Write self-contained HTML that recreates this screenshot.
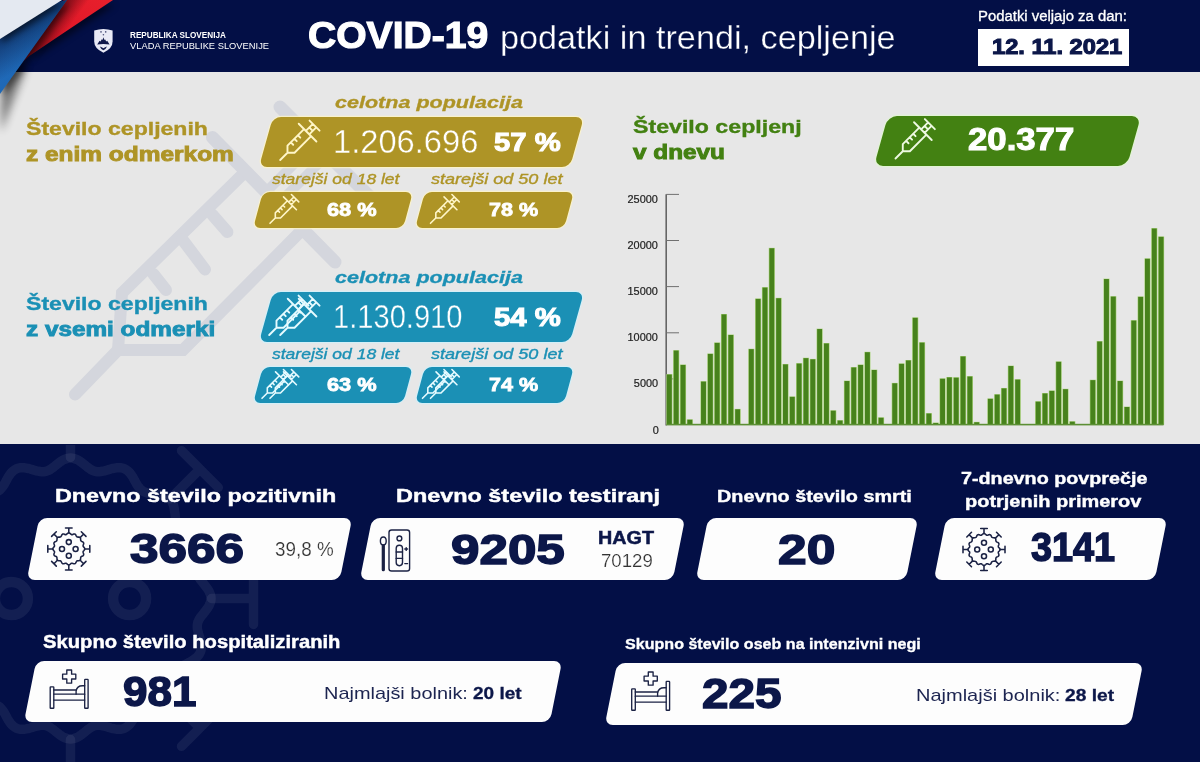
<!DOCTYPE html>
<html lang="sl"><head><meta charset="utf-8"><title>COVID-19 podatki in trendi, cepljenje</title>
<style>
html,body{margin:0;padding:0;background:#e7e7e7;}
body{width:1200px;height:762px;overflow:hidden;position:relative;font-family:"Liberation Sans",sans-serif;}
#page{position:absolute;left:0;top:0;width:1200px;height:762px;overflow:hidden;background:#e7e7e7;}
.abs{position:absolute;}
.t{position:absolute;white-space:nowrap;line-height:1;transform-origin:0 0;margin:0;padding:0;}
.pill{position:absolute;border-radius:9px;}
svg{position:absolute;left:0;top:0;overflow:visible;}
</style></head><body><div id="page">

<div class="abs" style="left:0;top:0;width:1200px;height:71.8px;background:#030f46"></div>
<div class="abs" style="left:0;top:443.8px;width:1200px;height:318.2px;background:#030f46"></div>
<svg width="1200" height="762" viewBox="0 0 1200 762">
<defs>
<linearGradient id="gb" x1="0" y1="0" x2="1" y2="1"><stop offset="0" stop-color="#2a72c4"/><stop offset="0.5" stop-color="#1e68b6"/><stop offset="1" stop-color="#1c6cbc"/></linearGradient>
<linearGradient id="gr" x1="0" y1="1" x2="1" y2="0"><stop offset="0" stop-color="#a8101c"/><stop offset="0.5" stop-color="#e01828"/><stop offset="1" stop-color="#e8202c"/></linearGradient>
<linearGradient id="grs" gradientUnits="userSpaceOnUse" x1="42" y1="33" x2="57" y2="44"><stop offset="0" stop-color="#5a0812" stop-opacity="0.75"/><stop offset="1" stop-color="#5a0812" stop-opacity="0"/></linearGradient>
<linearGradient id="gbs" gradientUnits="userSpaceOnUse" x1="31" y1="19.5" x2="50" y2="50"><stop offset="0" stop-color="#08204e" stop-opacity="0.7"/><stop offset="1" stop-color="#08204e" stop-opacity="0"/></linearGradient>
<filter id="sh" x="-30%" y="-30%" width="160%" height="160%"><feGaussianBlur stdDeviation="3"/></filter>
<filter id="sh2" x="-30%" y="-30%" width="160%" height="160%"><feGaussianBlur stdDeviation="4"/></filter>
</defs>
<polygon points="-6,60 20,62 -6,128" fill="#000" opacity="0.45" filter="url(#sh2)" transform="translate(7,4)"/>
<polygon points="62,0 113,0 29,56" fill="#000" opacity="0.5" filter="url(#sh)" transform="translate(2,5)"/>
<polygon points="64,0 113,0 29,56 18,66" fill="url(#gr)"/>
<polygon points="64,0 113,0 29,56 18,66" fill="url(#grs)"/>
<polygon points="0,30 67,0 0,93" fill="#000" opacity="0.5" filter="url(#sh)" transform="translate(4,3)"/>
<polygon points="0,20 67,0 0,94" fill="url(#gb)"/>
<polygon points="0,20 67,0 0,94" fill="url(#gbs)"/>
<polygon points="0,0 62,0 0,39" fill="#000" opacity="0.55" filter="url(#sh)" transform="translate(2,4)"/>
<polygon points="0,0 62,0 0,39" fill="#e4e9f1"/>
<g transform="translate(94,29)">
<path d="M0.2,1.4 Q9.4,-1.6 18.6,1.4 L18.6,12.6 Q18.6,19.6 9.4,23.8 Q0.2,19.6 0.2,12.6 Z" fill="#e9eaf6"/>
<path d="M3.2,15.4 L5.6,11.8 L6.5,12.6 L7.8,10.2 L8.5,11 L9.4,8.2 L10.3,11 L11,10.2 L12.3,12.6 L13.2,11.8 L15.6,15.4 Q9.4,14.4 3.2,15.4 Z" fill="#10184a"/>
<path d="M5.8,17.4 Q7.8,18 9.4,19.2 Q11,18 13,17.4 Q11.6,20.6 9.4,21.2 Q7.2,20.6 5.8,17.4 Z" fill="#10184a"/>
<circle cx="7" cy="2.9" r="0.8" fill="#4a5078"/><circle cx="11.7" cy="2.9" r="0.8" fill="#4a5078"/><circle cx="9.4" cy="5.8" r="0.8" fill="#4a5078"/>
</g>
<g fill="none" stroke="#d4d6dd" stroke-width="12" stroke-linecap="round" stroke-linejoin="miter">
<path d="M75,394.5 L118,350"/>
<path d="M244,173 L122,293 L118,350 L183,350 L302,230"/>
<path d="M212.5,137.5 L335,262" stroke-width="13"/>
<path d="M280,107 L372,199" stroke-width="13"/>
<path d="M266,192 L316,142 M278,204 L328,154" stroke-width="10"/>
<path d="M212.4,214.7 L227.4,232"/><path d="M182.5,239.6 L205,269.5"/><path d="M153.4,274 L166,290"/>
</g>
<clipPath id="navyclip"><rect x="0" y="445" width="1200" height="317"/></clipPath>
<g fill="none" stroke="#ffffff" stroke-opacity="0.066" stroke-width="9.5" stroke-linecap="round" clip-path="url(#navyclip)">
<path d="M211.0,598.5 L210.9,600.3 L210.5,602.2 L209.8,604.0 L209.0,605.8 L208.0,607.5 L206.8,609.2 L205.5,610.9 L204.2,612.6 L202.9,614.2 L201.6,615.8 L200.5,617.3 L199.4,618.9 L198.6,620.5 L197.9,622.1 L197.5,623.8 L197.3,625.4 L197.3,627.2 L197.4,629.0 L197.8,630.8 L198.2,632.7 L198.8,634.7 L199.4,636.7 L200.0,638.7 L200.5,640.7 L200.9,642.8 L201.2,644.8 L201.3,646.8 L201.2,648.7 L200.9,650.5 L200.3,652.3 L199.5,653.9 L198.4,655.5 L197.1,656.9 L195.7,658.2 L194.0,659.4 L192.3,660.6 L190.5,661.6 L188.6,662.6 L186.8,663.6 L185.0,664.6 L183.4,665.6 L181.8,666.7 L180.4,667.9 L179.2,669.1 L178.2,670.4 L177.3,671.9 L176.6,673.5 L176.1,675.2 L175.7,677.1 L175.4,679.0 L175.2,681.0 L175.0,683.1 L174.7,685.2 L174.4,687.3 L174.1,689.3 L173.6,691.3 L172.9,693.2 L172.1,694.9 L171.1,696.5 L169.8,697.8 L168.5,699.1 L166.9,700.1 L165.2,700.9 L163.3,701.6 L161.3,702.1 L159.3,702.4 L157.2,702.7 L155.1,703.0 L153.0,703.2 L151.0,703.4 L149.1,703.7 L147.2,704.1 L145.5,704.6 L143.9,705.3 L142.4,706.2 L141.1,707.2 L139.9,708.4 L138.7,709.8 L137.6,711.4 L136.6,713.0 L135.6,714.8 L134.6,716.6 L133.6,718.5 L132.6,720.3 L131.4,722.0 L130.2,723.7 L128.9,725.1 L127.5,726.4 L125.9,727.5 L124.3,728.3 L122.5,728.9 L120.7,729.2 L118.8,729.3 L116.8,729.2 L114.8,728.9 L112.7,728.5 L110.7,728.0 L108.7,727.4 L106.7,726.8 L104.7,726.2 L102.8,725.8 L101.0,725.4 L99.2,725.3 L97.4,725.3 L95.8,725.5 L94.1,725.9 L92.5,726.6 L90.9,727.4 L89.3,728.5 L87.8,729.6 L86.2,730.9 L84.6,732.2 L82.9,733.5 L81.2,734.8 L79.5,736.0 L77.8,737.0 L76.0,737.8 L74.2,738.5 L72.3,738.9 L70.5,739.0 L68.7,738.9 L66.8,738.5 L65.0,737.8 L63.2,737.0 L61.5,736.0 L59.8,734.8 L58.1,733.5 L56.4,732.2 L54.8,730.9 L53.2,729.6 L51.7,728.5 L50.1,727.4 L48.5,726.6 L46.9,725.9 L45.2,725.5 L43.6,725.3 L41.8,725.3 L40.0,725.4 L38.2,725.8 L36.3,726.2 L34.3,726.8 L32.3,727.4 L30.3,728.0 L28.3,728.5 L26.2,728.9 L24.2,729.2 L22.2,729.3 L20.3,729.2 L18.5,728.9 L16.7,728.3 L15.1,727.5 L13.5,726.4 L12.1,725.1 L10.8,723.7 L9.6,722.0 L8.4,720.3 L7.4,718.5 L6.4,716.6 L5.4,714.8 L4.4,713.0 L3.4,711.4 L2.3,709.8 L1.1,708.4 L-0.1,707.2 L-1.4,706.2 L-2.9,705.3 L-4.5,704.6 L-6.2,704.1 L-8.1,703.7 L-10.0,703.4 L-12.0,703.2 L-14.1,703.0 L-16.2,702.7 L-18.3,702.4 L-20.3,702.1 L-22.3,701.6 L-24.2,700.9 L-25.9,700.1 L-27.5,699.1 L-28.8,697.8 L-30.1,696.5 L-31.1,694.9 L-31.9,693.2 L-32.6,691.3 L-33.1,689.3 L-33.4,687.3 L-33.7,685.2 L-34.0,683.1 L-34.2,681.0 L-34.4,679.0 L-34.7,677.1 L-35.1,675.2 L-35.6,673.5 L-36.3,671.9 L-37.2,670.4 L-38.2,669.1 L-39.4,667.9 L-40.8,666.7 L-42.4,665.6 L-44.0,664.6 L-45.8,663.6 L-47.6,662.6 L-49.5,661.6 L-51.3,660.6 L-53.0,659.4 L-54.7,658.2 L-56.1,656.9 L-57.4,655.5 L-58.5,653.9 L-59.3,652.3 L-59.9,650.5 L-60.2,648.7 L-60.3,646.8 L-60.2,644.8 L-59.9,642.8 L-59.5,640.7 L-59.0,638.7 L-58.4,636.7 L-57.8,634.7 L-57.2,632.7 L-56.8,630.8 L-56.4,629.0 L-56.3,627.2 L-56.3,625.4 L-56.5,623.8 L-56.9,622.1 L-57.6,620.5 L-58.4,618.9 L-59.5,617.3 L-60.6,615.8 L-61.9,614.2 L-63.2,612.6 L-64.5,610.9 L-65.8,609.2 L-67.0,607.5 L-68.0,605.8 L-68.8,604.0 L-69.5,602.2 L-69.9,600.3 L-70.0,598.5 L-69.9,596.7 L-69.5,594.8 L-68.8,593.0 L-68.0,591.2 L-67.0,589.5 L-65.8,587.8 L-64.5,586.1 L-63.2,584.4 L-61.9,582.8 L-60.6,581.2 L-59.5,579.7 L-58.4,578.1 L-57.6,576.5 L-56.9,574.9 L-56.5,573.2 L-56.3,571.6 L-56.3,569.8 L-56.4,568.0 L-56.8,566.2 L-57.2,564.3 L-57.8,562.3 L-58.4,560.3 L-59.0,558.3 L-59.5,556.3 L-59.9,554.2 L-60.2,552.2 L-60.3,550.2 L-60.2,548.3 L-59.9,546.5 L-59.3,544.7 L-58.5,543.1 L-57.4,541.5 L-56.1,540.1 L-54.7,538.8 L-53.0,537.6 L-51.3,536.4 L-49.5,535.4 L-47.6,534.4 L-45.8,533.4 L-44.0,532.4 L-42.4,531.4 L-40.8,530.3 L-39.4,529.1 L-38.2,527.9 L-37.2,526.6 L-36.3,525.1 L-35.6,523.5 L-35.1,521.8 L-34.7,519.9 L-34.4,518.0 L-34.2,516.0 L-34.0,513.9 L-33.7,511.8 L-33.4,509.7 L-33.1,507.7 L-32.6,505.7 L-31.9,503.8 L-31.1,502.1 L-30.1,500.5 L-28.8,499.2 L-27.5,497.9 L-25.9,496.9 L-24.2,496.1 L-22.3,495.4 L-20.3,494.9 L-18.3,494.6 L-16.2,494.3 L-14.1,494.0 L-12.0,493.8 L-10.0,493.6 L-8.1,493.3 L-6.2,492.9 L-4.5,492.4 L-2.9,491.7 L-1.4,490.8 L-0.1,489.8 L1.1,488.6 L2.3,487.2 L3.4,485.6 L4.4,484.0 L5.4,482.2 L6.4,480.4 L7.4,478.5 L8.4,476.7 L9.6,475.0 L10.8,473.3 L12.1,471.9 L13.5,470.6 L15.1,469.5 L16.7,468.7 L18.5,468.1 L20.3,467.8 L22.2,467.7 L24.2,467.8 L26.2,468.1 L28.3,468.5 L30.3,469.0 L32.3,469.6 L34.3,470.2 L36.3,470.8 L38.2,471.2 L40.0,471.6 L41.8,471.7 L43.6,471.7 L45.2,471.5 L46.9,471.1 L48.5,470.4 L50.1,469.6 L51.7,468.5 L53.2,467.4 L54.8,466.1 L56.4,464.8 L58.1,463.5 L59.8,462.2 L61.5,461.0 L63.2,460.0 L65.0,459.2 L66.8,458.5 L68.7,458.1 L70.5,458.0 L72.3,458.1 L74.2,458.5 L76.0,459.2 L77.8,460.0 L79.5,461.0 L81.2,462.2 L82.9,463.5 L84.6,464.8 L86.2,466.1 L87.8,467.4 L89.3,468.5 L90.9,469.6 L92.5,470.4 L94.1,471.1 L95.8,471.5 L97.4,471.7 L99.2,471.7 L101.0,471.6 L102.8,471.2 L104.7,470.8 L106.7,470.2 L108.7,469.6 L110.7,469.0 L112.7,468.5 L114.8,468.1 L116.8,467.8 L118.8,467.7 L120.7,467.8 L122.5,468.1 L124.3,468.7 L125.9,469.5 L127.5,470.6 L128.9,471.9 L130.2,473.3 L131.4,475.0 L132.6,476.7 L133.6,478.5 L134.6,480.4 L135.6,482.2 L136.6,484.0 L137.6,485.6 L138.7,487.2 L139.9,488.6 L141.1,489.8 L142.4,490.8 L143.9,491.7 L145.5,492.4 L147.2,492.9 L149.1,493.3 L151.0,493.6 L153.0,493.8 L155.1,494.0 L157.2,494.3 L159.3,494.6 L161.3,494.9 L163.3,495.4 L165.2,496.1 L166.9,496.9 L168.5,497.9 L169.8,499.2 L171.1,500.5 L172.1,502.1 L172.9,503.8 L173.6,505.7 L174.1,507.7 L174.4,509.7 L174.7,511.8 L175.0,513.9 L175.2,516.0 L175.4,518.0 L175.7,519.9 L176.1,521.8 L176.6,523.5 L177.3,525.1 L178.2,526.6 L179.2,527.9 L180.4,529.1 L181.8,530.3 L183.4,531.4 L185.0,532.4 L186.8,533.4 L188.6,534.4 L190.5,535.4 L192.3,536.4 L194.0,537.6 L195.7,538.8 L197.1,540.1 L198.4,541.5 L199.5,543.1 L200.3,544.7 L200.9,546.5 L201.2,548.3 L201.3,550.2 L201.2,552.2 L200.9,554.2 L200.5,556.3 L200.0,558.3 L199.4,560.3 L198.8,562.3 L198.2,564.3 L197.8,566.2 L197.4,568.0 L197.3,569.8 L197.3,571.6 L197.5,573.2 L197.9,574.9 L198.6,576.5 L199.4,578.1 L200.5,579.7 L201.6,581.2 L202.9,582.8 L204.2,584.4 L205.5,586.1 L206.8,587.8 L208.0,589.5 L209.0,591.2 L209.8,593.0 L210.5,594.8 L210.9,596.7 L211.0,598.5Z"/>
<path d="M211.5,598.5 L253.5,598.5 M253.5,572.5 L253.5,624.5"/>
<path d="M170.2,698.2 L199.9,727.9 M218.3,709.5 L181.5,746.3"/>
<path d="M70.5,739.5 L70.5,781.5 M96.5,781.5 L44.5,781.5"/>
<path d="M-29.2,698.2 L-58.9,727.9 M-40.5,746.3 L-77.3,709.5"/>
<path d="M-70.5,598.5 L-112.5,598.5 M-112.5,624.5 L-112.5,572.5"/>
<path d="M-29.2,498.8 L-58.9,469.1 M-77.3,487.5 L-40.5,450.7"/>
<path d="M70.5,457.5 L70.5,415.5 M44.5,415.5 L96.5,415.5"/>
<path d="M170.2,498.8 L199.9,469.1 M181.5,450.7 L218.3,487.5"/>
<circle cx="11.4" cy="598.5" r="16.5" stroke-width="10.5"/><circle cx="129.6" cy="598.5" r="16.5" stroke-width="10.5"/>
</g>
</svg>
<div class="pill" style="left:265.9px;top:116.6px;width:310.6px;height:49.8px;background:#ae9426;transform:skewX(-15.64deg);border-radius:8px;box-shadow:0 0 0 1.2px rgba(255,246,196,.75);"></div>
<div class="pill" style="left:258.4px;top:192.3px;width:150.2px;height:36.2px;background:#ae9426;transform:skewX(-15.11deg);border-radius:7px;box-shadow:0 0 0 1.2px rgba(255,246,196,.75);"></div>
<div class="pill" style="left:419.8px;top:192.3px;width:148.9px;height:36.2px;background:#ae9426;transform:skewX(-15.11deg);border-radius:7px;box-shadow:0 0 0 1.2px rgba(255,246,196,.75);"></div>
<div class="pill" style="left:265.9px;top:291.6px;width:310.6px;height:49.8px;background:#1b90b5;transform:skewX(-15.64deg);border-radius:8px;box-shadow:0 0 0 1.2px rgba(205,242,252,.75);"></div>
<div class="pill" style="left:258.4px;top:367.3px;width:150.2px;height:36.2px;background:#1b90b5;transform:skewX(-15.11deg);border-radius:7px;box-shadow:0 0 0 1.2px rgba(205,242,252,.75);"></div>
<div class="pill" style="left:419.8px;top:367.3px;width:148.9px;height:36.2px;background:#1b90b5;transform:skewX(-15.11deg);border-radius:7px;box-shadow:0 0 0 1.2px rgba(205,242,252,.75);"></div>
<div class="pill" style="left:881.1px;top:115.8px;width:252.6px;height:49.8px;background:#438112;transform:skewX(-15.64deg);border-radius:9px;box-shadow:0 0 0 1.2px rgba(224,250,205,.7);"></div>
<div class="pill" style="left:33.3px;top:518.4px;width:313.2px;height:61.8px;background:#fdfdfd;transform:skewX(-11.31deg);border-radius:8px;"></div>
<div class="pill" style="left:366.0px;top:518.4px;width:312.5px;height:61.8px;background:#fdfdfd;transform:skewX(-11.31deg);border-radius:8px;"></div>
<div class="pill" style="left:702.3px;top:518.4px;width:209.7px;height:61.8px;background:#fdfdfd;transform:skewX(-11.31deg);border-radius:8px;"></div>
<div class="pill" style="left:939.5px;top:518.4px;width:220.5px;height:61.8px;background:#fdfdfd;transform:skewX(-11.31deg);border-radius:8px;"></div>
<div class="pill" style="left:29.5px;top:661.2px;width:526.2px;height:61.3px;background:#fdfdfd;transform:skewX(-11.31deg);border-radius:8px;"></div>
<div class="pill" style="left:611.3px;top:662.8px;width:525.7px;height:61.8px;background:#fdfdfd;transform:skewX(-11.31deg);border-radius:8px;"></div>
<div class="abs" style="left:978px;top:28.8px;width:150.8px;height:36.8px;background:#fff"></div>
<svg width="1200" height="762" viewBox="0 0 1200 762">
<g transform="translate(280.2,160.0) rotate(-45) scale(1.000)" fill="none" stroke="#fff6c8" stroke-width="1.90" stroke-linecap="round" stroke-linejoin="round">
<path d="M0,0 L10.3,0 M38.7,-5 L15.3,-5 L10.3,0 L15.3,5 L38.7,5 M38.7,-12.5 L38.7,12.5 M38.7,-2.4 L48.6,-2.4 M38.7,2.4 L48.6,2.4 M43.6,-2.4 L43.6,2.4 M48.6,-7.1 L48.6,7.1 M20,-5 L20,-1.6 M25,-5 L25,-1.6 M30,-5 L30,-1.6"/>
</g>
<g transform="translate(270.0,223.3) rotate(-45) scale(0.730)" fill="none" stroke="#fff6c8" stroke-width="2.19" stroke-linecap="round" stroke-linejoin="round">
<path d="M0,0 L10.3,0 M38.7,-5 L15.3,-5 L10.3,0 L15.3,5 L38.7,5 M38.7,-12.5 L38.7,12.5 M38.7,-2.4 L48.6,-2.4 M38.7,2.4 L48.6,2.4 M43.6,-2.4 L43.6,2.4 M48.6,-7.1 L48.6,7.1 M20,-5 L20,-1.6 M25,-5 L25,-1.6 M30,-5 L30,-1.6"/>
</g>
<g transform="translate(430.5,223.3) rotate(-45) scale(0.730)" fill="none" stroke="#fff6c8" stroke-width="2.19" stroke-linecap="round" stroke-linejoin="round">
<path d="M0,0 L10.3,0 M38.7,-5 L15.3,-5 L10.3,0 L15.3,5 L38.7,5 M38.7,-12.5 L38.7,12.5 M38.7,-2.4 L48.6,-2.4 M38.7,2.4 L48.6,2.4 M43.6,-2.4 L43.6,2.4 M48.6,-7.1 L48.6,7.1 M20,-5 L20,-1.6 M25,-5 L25,-1.6 M30,-5 L30,-1.6"/>
</g>
<g transform="translate(269.2,335.0) rotate(-45) scale(1.000)" fill="none" stroke="#e6fbff" stroke-width="1.90" stroke-linecap="round" stroke-linejoin="round">
<path d="M0,0 L10.3,0 M38.7,-5 L15.3,-5 L10.3,0 L15.3,5 L38.7,5 M38.7,-12.5 L38.7,12.5 M38.7,-2.4 L48.6,-2.4 M38.7,2.4 L48.6,2.4 M43.6,-2.4 L43.6,2.4 M48.6,-7.1 L48.6,7.1 M20,-5 L20,-1.6 M25,-5 L25,-1.6 M30,-5 L30,-1.6"/>
</g>
<g transform="translate(280.2,335.0) rotate(-45) scale(1.000)" fill="none" stroke="#e6fbff" stroke-width="1.90" stroke-linecap="round" stroke-linejoin="round">
<path d="M0,0 L10.3,0 M38.7,-5 L15.3,-5 L10.3,0 L15.3,5 L38.7,5 M38.7,-12.5 L38.7,12.5 M38.7,-2.4 L48.6,-2.4 M38.7,2.4 L48.6,2.4 M43.6,-2.4 L43.6,2.4 M48.6,-7.1 L48.6,7.1 M20,-5 L20,-1.6 M25,-5 L25,-1.6 M30,-5 L30,-1.6"/>
</g>
<g transform="translate(262.0,398.3) rotate(-45) scale(0.730)" fill="none" stroke="#e6fbff" stroke-width="2.19" stroke-linecap="round" stroke-linejoin="round">
<path d="M0,0 L10.3,0 M38.7,-5 L15.3,-5 L10.3,0 L15.3,5 L38.7,5 M38.7,-12.5 L38.7,12.5 M38.7,-2.4 L48.6,-2.4 M38.7,2.4 L48.6,2.4 M43.6,-2.4 L43.6,2.4 M48.6,-7.1 L48.6,7.1 M20,-5 L20,-1.6 M25,-5 L25,-1.6 M30,-5 L30,-1.6"/>
</g>
<g transform="translate(270.0,398.3) rotate(-45) scale(0.730)" fill="none" stroke="#e6fbff" stroke-width="2.19" stroke-linecap="round" stroke-linejoin="round">
<path d="M0,0 L10.3,0 M38.7,-5 L15.3,-5 L10.3,0 L15.3,5 L38.7,5 M38.7,-12.5 L38.7,12.5 M38.7,-2.4 L48.6,-2.4 M38.7,2.4 L48.6,2.4 M43.6,-2.4 L43.6,2.4 M48.6,-7.1 L48.6,7.1 M20,-5 L20,-1.6 M25,-5 L25,-1.6 M30,-5 L30,-1.6"/>
</g>
<g transform="translate(422.5,398.3) rotate(-45) scale(0.730)" fill="none" stroke="#e6fbff" stroke-width="2.19" stroke-linecap="round" stroke-linejoin="round">
<path d="M0,0 L10.3,0 M38.7,-5 L15.3,-5 L10.3,0 L15.3,5 L38.7,5 M38.7,-12.5 L38.7,12.5 M38.7,-2.4 L48.6,-2.4 M38.7,2.4 L48.6,2.4 M43.6,-2.4 L43.6,2.4 M48.6,-7.1 L48.6,7.1 M20,-5 L20,-1.6 M25,-5 L25,-1.6 M30,-5 L30,-1.6"/>
</g>
<g transform="translate(430.5,398.3) rotate(-45) scale(0.730)" fill="none" stroke="#e6fbff" stroke-width="2.19" stroke-linecap="round" stroke-linejoin="round">
<path d="M0,0 L10.3,0 M38.7,-5 L15.3,-5 L10.3,0 L15.3,5 L38.7,5 M38.7,-12.5 L38.7,12.5 M38.7,-2.4 L48.6,-2.4 M38.7,2.4 L48.6,2.4 M43.6,-2.4 L43.6,2.4 M48.6,-7.1 L48.6,7.1 M20,-5 L20,-1.6 M25,-5 L25,-1.6 M30,-5 L30,-1.6"/>
</g>
<g transform="translate(895.5,158.5) rotate(-45) scale(1.000)" fill="none" stroke="#eef9e2" stroke-width="1.90" stroke-linecap="round" stroke-linejoin="round">
<path d="M0,0 L10.3,0 M38.7,-5 L15.3,-5 L10.3,0 L15.3,5 L38.7,5 M38.7,-12.5 L38.7,12.5 M38.7,-2.4 L48.6,-2.4 M38.7,2.4 L48.6,2.4 M43.6,-2.4 L43.6,2.4 M48.6,-7.1 L48.6,7.1 M20,-5 L20,-1.6 M25,-5 L25,-1.6 M30,-5 L30,-1.6"/>
</g>
<g fill="none" stroke="#1b2244" stroke-width="1.55" stroke-linecap="round">
<path d="M84.8,548.9 L84.7,549.5 L84.3,550.1 L83.8,550.7 L83.3,551.2 L83.1,551.7 L83.1,552.3 L83.3,553.0 L83.6,553.7 L83.7,554.4 L83.6,555.0 L83.2,555.6 L82.6,556.0 L81.9,556.3 L81.3,556.6 L80.9,557.0 L80.7,557.5 L80.6,558.2 L80.6,559.0 L80.5,559.7 L80.1,560.2 L79.6,560.6 L78.9,560.7 L78.1,560.7 L77.4,560.8 L76.9,561.0 L76.5,561.4 L76.2,562.0 L75.9,562.7 L75.5,563.3 L74.9,563.7 L74.3,563.8 L73.6,563.7 L72.9,563.4 L72.2,563.2 L71.6,563.2 L71.1,563.4 L70.6,563.9 L70.0,564.4 L69.4,564.8 L68.8,564.9 L68.2,564.8 L67.6,564.4 L67.0,563.9 L66.5,563.4 L66.0,563.2 L65.4,563.2 L64.7,563.4 L64.0,563.7 L63.3,563.8 L62.7,563.7 L62.1,563.3 L61.7,562.7 L61.4,562.0 L61.1,561.4 L60.7,561.0 L60.2,560.8 L59.5,560.7 L58.7,560.7 L58.0,560.6 L57.5,560.2 L57.1,559.7 L57.0,559.0 L57.0,558.2 L56.9,557.5 L56.7,557.0 L56.3,556.6 L55.7,556.3 L55.0,556.0 L54.4,555.6 L54.0,555.0 L53.9,554.4 L54.0,553.7 L54.3,553.0 L54.5,552.3 L54.5,551.7 L54.3,551.2 L53.8,550.7 L53.3,550.1 L52.9,549.5 L52.8,548.9 L52.9,548.3 L53.3,547.7 L53.8,547.1 L54.3,546.6 L54.5,546.1 L54.5,545.5 L54.3,544.8 L54.0,544.1 L53.9,543.4 L54.0,542.8 L54.4,542.2 L55.0,541.8 L55.7,541.5 L56.3,541.2 L56.7,540.8 L56.9,540.3 L57.0,539.6 L57.0,538.8 L57.1,538.1 L57.5,537.6 L58.0,537.2 L58.7,537.1 L59.5,537.1 L60.2,537.0 L60.7,536.8 L61.1,536.4 L61.4,535.8 L61.7,535.1 L62.1,534.5 L62.7,534.1 L63.3,534.0 L64.0,534.1 L64.7,534.4 L65.4,534.6 L66.0,534.6 L66.5,534.4 L67.0,533.9 L67.6,533.4 L68.2,533.0 L68.8,532.9 L69.4,533.0 L70.0,533.4 L70.6,533.9 L71.1,534.4 L71.6,534.6 L72.2,534.6 L72.9,534.4 L73.6,534.1 L74.3,534.0 L74.9,534.1 L75.5,534.5 L75.9,535.1 L76.2,535.8 L76.5,536.4 L76.9,536.8 L77.4,537.0 L78.1,537.1 L78.9,537.1 L79.6,537.2 L80.1,537.6 L80.5,538.1 L80.6,538.8 L80.6,539.6 L80.7,540.3 L80.9,540.8 L81.3,541.2 L81.9,541.5 L82.6,541.8 L83.2,542.2 L83.6,542.8 L83.7,543.4 L83.6,544.1 L83.3,544.8 L83.1,545.5 L83.1,546.1 L83.3,546.6 L83.8,547.1 L84.3,547.7 L84.7,548.3 L84.8,548.9Z"/>
<path d="M68.8,532.8 L68.8,527.9 M65.5,527.9 L72.1,527.9"/>
<path d="M80.2,537.5 L83.6,534.1 M81.3,531.7 L86.0,536.4"/>
<path d="M84.9,548.9 L89.8,548.9 M89.8,545.6 L89.8,552.2"/>
<path d="M80.2,560.3 L83.6,563.7 M86.0,561.4 L81.3,566.1"/>
<path d="M68.8,565.0 L68.8,569.9 M72.1,569.9 L65.5,569.9"/>
<path d="M57.4,560.3 L54.0,563.7 M56.3,566.1 L51.6,561.4"/>
<path d="M52.7,548.9 L47.8,548.9 M47.8,552.2 L47.8,545.6"/>
<path d="M57.4,537.5 L54.0,534.1 M51.6,536.4 L56.3,531.7"/>
<circle cx="68.8" cy="542.1" r="2.5"/>
<circle cx="62.0" cy="548.9" r="2.5"/>
<circle cx="75.6" cy="548.9" r="2.5"/>
<circle cx="68.8" cy="555.7" r="2.5"/>
</g>
<g fill="none" stroke="#1b2244" stroke-width="1.55" stroke-linecap="round">
<path d="M1000.0,549.5 L999.9,550.1 L999.5,550.7 L999.0,551.3 L998.5,551.8 L998.3,552.3 L998.3,552.9 L998.5,553.6 L998.8,554.3 L998.9,555.0 L998.8,555.6 L998.4,556.2 L997.8,556.6 L997.1,556.9 L996.5,557.2 L996.1,557.6 L995.9,558.1 L995.8,558.8 L995.8,559.6 L995.7,560.3 L995.3,560.8 L994.8,561.2 L994.1,561.3 L993.3,561.3 L992.6,561.4 L992.1,561.6 L991.7,562.0 L991.4,562.6 L991.1,563.3 L990.7,563.9 L990.1,564.3 L989.5,564.4 L988.8,564.3 L988.1,564.0 L987.4,563.8 L986.8,563.8 L986.3,564.0 L985.8,564.5 L985.2,565.0 L984.6,565.4 L984.0,565.5 L983.4,565.4 L982.8,565.0 L982.2,564.5 L981.7,564.0 L981.2,563.8 L980.6,563.8 L979.9,564.0 L979.2,564.3 L978.5,564.4 L977.9,564.3 L977.3,563.9 L976.9,563.3 L976.6,562.6 L976.3,562.0 L975.9,561.6 L975.4,561.4 L974.7,561.3 L973.9,561.3 L973.2,561.2 L972.7,560.8 L972.3,560.3 L972.2,559.6 L972.2,558.8 L972.1,558.1 L971.9,557.6 L971.5,557.2 L970.9,556.9 L970.2,556.6 L969.6,556.2 L969.2,555.6 L969.1,555.0 L969.2,554.3 L969.5,553.6 L969.7,552.9 L969.7,552.3 L969.5,551.8 L969.0,551.3 L968.5,550.7 L968.1,550.1 L968.0,549.5 L968.1,548.9 L968.5,548.3 L969.0,547.7 L969.5,547.2 L969.7,546.7 L969.7,546.1 L969.5,545.4 L969.2,544.7 L969.1,544.0 L969.2,543.4 L969.6,542.8 L970.2,542.4 L970.9,542.1 L971.5,541.8 L971.9,541.4 L972.1,540.9 L972.2,540.2 L972.2,539.4 L972.3,538.7 L972.7,538.2 L973.2,537.8 L973.9,537.7 L974.7,537.7 L975.4,537.6 L975.9,537.4 L976.3,537.0 L976.6,536.4 L976.9,535.7 L977.3,535.1 L977.9,534.7 L978.5,534.6 L979.2,534.7 L979.9,535.0 L980.6,535.2 L981.2,535.2 L981.7,535.0 L982.2,534.5 L982.8,534.0 L983.4,533.6 L984.0,533.5 L984.6,533.6 L985.2,534.0 L985.8,534.5 L986.3,535.0 L986.8,535.2 L987.4,535.2 L988.1,535.0 L988.8,534.7 L989.5,534.6 L990.1,534.7 L990.7,535.1 L991.1,535.7 L991.4,536.4 L991.7,537.0 L992.1,537.4 L992.6,537.6 L993.3,537.7 L994.1,537.7 L994.8,537.8 L995.3,538.2 L995.7,538.7 L995.8,539.4 L995.8,540.2 L995.9,540.9 L996.1,541.4 L996.5,541.8 L997.1,542.1 L997.8,542.4 L998.4,542.8 L998.8,543.4 L998.9,544.0 L998.8,544.7 L998.5,545.4 L998.3,546.1 L998.3,546.7 L998.5,547.2 L999.0,547.7 L999.5,548.3 L999.9,548.9 L1000.0,549.5Z"/>
<path d="M984.0,533.4 L984.0,528.5 M980.7,528.5 L987.3,528.5"/>
<path d="M995.4,538.1 L998.8,534.7 M996.5,532.3 L1001.2,537.0"/>
<path d="M1000.1,549.5 L1005.0,549.5 M1005.0,546.2 L1005.0,552.8"/>
<path d="M995.4,560.9 L998.8,564.3 M1001.2,562.0 L996.5,566.7"/>
<path d="M984.0,565.6 L984.0,570.5 M987.3,570.5 L980.7,570.5"/>
<path d="M972.6,560.9 L969.2,564.3 M971.5,566.7 L966.8,562.0"/>
<path d="M967.9,549.5 L963.0,549.5 M963.0,552.8 L963.0,546.2"/>
<path d="M972.6,538.1 L969.2,534.7 M966.8,537.0 L971.5,532.3"/>
<circle cx="984.0" cy="542.7" r="2.5"/>
<circle cx="977.2" cy="549.5" r="2.5"/>
<circle cx="990.8" cy="549.5" r="2.5"/>
<circle cx="984.0" cy="556.3" r="2.5"/>
</g>
<g fill="none" stroke="#1b2244" stroke-width="1.4" stroke-linecap="round" stroke-linejoin="round">
<ellipse cx="383.3" cy="541" rx="2.9" ry="4"/><rect x="382.4" y="545" width="1.8" height="25.6" rx="0.8" fill="#1b2244"/>
<rect x="389" y="530" width="20.6" height="41" rx="2.6"/>
<circle cx="399.4" cy="538.4" r="2.4"/>
<rect x="396.2" y="545.2" width="6.3" height="20.5" rx="3.1"/>
<path d="M396.2,552 L402.5,552 M396.2,558.4 L402.5,558.4 M404.8,549 L407.6,549 M406.2,547.6 L406.2,550.4 M404.8,563.6 L407.6,563.6"/>
</g>
<g transform="translate(49.5,669.6)" fill="none" stroke="#1b2244" stroke-width="1.35" stroke-linejoin="round" stroke-linecap="round">
<rect x="0.7" y="17.3" width="3.6" height="21.4" rx="0.5"/>
<rect x="35.2" y="9.8" width="3.4" height="28.9" rx="0.5"/>
<path d="M4.3,20.4 L26.6,20.4 M4.3,24.6 L35.2,24.6 M4.3,30.5 L35.2,30.5"/>
<path d="M26.6,24.6 L26.6,21.6 Q27.4,16.2 33,16.2 L35.2,16.2"/>
<path d="M17.3,0.4 h4.8 v4.2 h4.2 v4.8 h-4.2 v4.2 h-4.8 v-4.2 h-4.2 v-4.8 h4.2 z"/>
</g>
<g transform="translate(631.0,671.6)" fill="none" stroke="#1b2244" stroke-width="1.35" stroke-linejoin="round" stroke-linecap="round">
<rect x="0.7" y="17.3" width="3.6" height="21.4" rx="0.5"/>
<rect x="35.2" y="9.8" width="3.4" height="28.9" rx="0.5"/>
<path d="M4.3,20.4 L26.6,20.4 M4.3,24.6 L35.2,24.6 M4.3,30.5 L35.2,30.5"/>
<path d="M26.6,24.6 L26.6,21.6 Q27.4,16.2 33,16.2 L35.2,16.2"/>
<path d="M17.3,0.4 h4.8 v4.2 h4.2 v4.8 h-4.2 v4.2 h-4.8 v-4.2 h-4.2 v-4.8 h4.2 z"/>
</g>
<g stroke="#707070" stroke-width="1" fill="none">
<path d="M666.2,194.2 L666.2,425.5" stroke-width="1.6" stroke="#666"/>
<path d="M666.2,378.9 L679,378.9"/>
<path d="M666.2,332.8 L679,332.8"/>
<path d="M666.2,286.6 L679,286.6"/>
<path d="M666.2,240.5 L679,240.5"/>
<path d="M666.2,194.4 L679,194.4"/>
</g>
<g>
<rect x="666.30" y="374.13" width="6.10" height="50.67" fill="#a9d27a"/>
<rect x="673.13" y="350.15" width="6.10" height="74.65" fill="#a9d27a"/>
<rect x="679.96" y="364.54" width="6.10" height="60.26" fill="#a9d27a"/>
<rect x="686.79" y="419.33" width="6.10" height="5.47" fill="#a9d27a"/>
<rect x="700.45" y="381.19" width="6.10" height="43.61" fill="#a9d27a"/>
<rect x="707.28" y="353.51" width="6.10" height="71.29" fill="#a9d27a"/>
<rect x="714.11" y="342.49" width="6.10" height="82.31" fill="#a9d27a"/>
<rect x="720.94" y="313.99" width="6.10" height="110.81" fill="#a9d27a"/>
<rect x="727.77" y="334.56" width="6.10" height="90.24" fill="#a9d27a"/>
<rect x="734.60" y="408.90" width="6.10" height="15.90" fill="#a9d27a"/>
<rect x="748.26" y="348.76" width="6.10" height="76.04" fill="#a9d27a"/>
<rect x="755.09" y="298.49" width="6.10" height="126.31" fill="#a9d27a"/>
<rect x="761.92" y="287.15" width="6.10" height="137.65" fill="#a9d27a"/>
<rect x="768.75" y="247.85" width="6.10" height="176.95" fill="#a9d27a"/>
<rect x="775.58" y="297.85" width="6.10" height="126.95" fill="#a9d27a"/>
<rect x="782.41" y="363.98" width="6.10" height="60.82" fill="#a9d27a"/>
<rect x="789.24" y="396.45" width="6.10" height="28.35" fill="#a9d27a"/>
<rect x="796.07" y="363.15" width="6.10" height="61.65" fill="#a9d27a"/>
<rect x="802.90" y="357.76" width="6.10" height="67.04" fill="#a9d27a"/>
<rect x="809.73" y="358.91" width="6.10" height="65.89" fill="#a9d27a"/>
<rect x="816.56" y="328.65" width="6.10" height="96.15" fill="#a9d27a"/>
<rect x="823.39" y="343.04" width="6.10" height="81.76" fill="#a9d27a"/>
<rect x="830.22" y="410.29" width="6.10" height="14.51" fill="#a9d27a"/>
<rect x="837.05" y="420.16" width="6.10" height="4.64" fill="#a9d27a"/>
<rect x="843.88" y="380.63" width="6.10" height="44.17" fill="#a9d27a"/>
<rect x="850.71" y="367.07" width="6.10" height="57.73" fill="#a9d27a"/>
<rect x="857.54" y="364.54" width="6.10" height="60.26" fill="#a9d27a"/>
<rect x="864.37" y="351.81" width="6.10" height="72.99" fill="#a9d27a"/>
<rect x="871.20" y="369.61" width="6.10" height="55.19" fill="#a9d27a"/>
<rect x="878.03" y="417.34" width="6.10" height="7.46" fill="#a9d27a"/>
<rect x="891.69" y="382.89" width="6.10" height="41.91" fill="#a9d27a"/>
<rect x="898.52" y="363.43" width="6.10" height="61.37" fill="#a9d27a"/>
<rect x="905.35" y="360.02" width="6.10" height="64.78" fill="#a9d27a"/>
<rect x="912.18" y="317.40" width="6.10" height="107.40" fill="#a9d27a"/>
<rect x="919.01" y="342.21" width="6.10" height="82.59" fill="#a9d27a"/>
<rect x="925.84" y="413.10" width="6.10" height="11.70" fill="#a9d27a"/>
<rect x="932.67" y="422.56" width="6.10" height="2.24" fill="#a9d27a"/>
<rect x="939.50" y="378.37" width="6.10" height="46.43" fill="#a9d27a"/>
<rect x="946.33" y="376.99" width="6.10" height="47.81" fill="#a9d27a"/>
<rect x="953.16" y="377.27" width="6.10" height="47.53" fill="#a9d27a"/>
<rect x="959.99" y="356.05" width="6.10" height="68.75" fill="#a9d27a"/>
<rect x="966.82" y="376.11" width="6.10" height="48.69" fill="#a9d27a"/>
<rect x="973.65" y="421.86" width="6.10" height="2.94" fill="#a9d27a"/>
<rect x="987.31" y="398.43" width="6.10" height="26.37" fill="#a9d27a"/>
<rect x="994.14" y="394.19" width="6.10" height="30.61" fill="#a9d27a"/>
<rect x="1000.97" y="387.97" width="6.10" height="36.83" fill="#a9d27a"/>
<rect x="1007.80" y="365.64" width="6.10" height="59.16" fill="#a9d27a"/>
<rect x="1014.63" y="379.20" width="6.10" height="45.60" fill="#a9d27a"/>
<rect x="1035.12" y="401.25" width="6.10" height="23.55" fill="#a9d27a"/>
<rect x="1041.95" y="393.04" width="6.10" height="31.76" fill="#a9d27a"/>
<rect x="1048.78" y="390.50" width="6.10" height="34.30" fill="#a9d27a"/>
<rect x="1055.61" y="361.40" width="6.10" height="63.40" fill="#a9d27a"/>
<rect x="1062.44" y="388.80" width="6.10" height="36.00" fill="#a9d27a"/>
<rect x="1069.27" y="421.26" width="6.10" height="3.54" fill="#a9d27a"/>
<rect x="1089.76" y="379.76" width="6.10" height="45.04" fill="#a9d27a"/>
<rect x="1096.59" y="341.11" width="6.10" height="83.69" fill="#a9d27a"/>
<rect x="1103.42" y="278.66" width="6.10" height="146.14" fill="#a9d27a"/>
<rect x="1110.25" y="296.19" width="6.10" height="128.61" fill="#a9d27a"/>
<rect x="1117.08" y="380.63" width="6.10" height="44.17" fill="#a9d27a"/>
<rect x="1123.91" y="406.60" width="6.10" height="18.20" fill="#a9d27a"/>
<rect x="1130.74" y="320.17" width="6.10" height="104.63" fill="#a9d27a"/>
<rect x="1137.57" y="296.46" width="6.10" height="128.34" fill="#a9d27a"/>
<rect x="1144.40" y="258.37" width="6.10" height="166.43" fill="#a9d27a"/>
<rect x="1151.23" y="228.11" width="6.10" height="196.69" fill="#a9d27a"/>
<rect x="1158.06" y="236.44" width="6.10" height="188.36" fill="#a9d27a"/>
<rect x="666.90" y="374.53" width="4.90" height="50.27" fill="#47821c"/>
<rect x="673.73" y="350.55" width="4.90" height="74.25" fill="#47821c"/>
<rect x="680.56" y="364.94" width="4.90" height="59.86" fill="#47821c"/>
<rect x="687.39" y="419.73" width="4.90" height="5.07" fill="#47821c"/>
<rect x="701.05" y="381.59" width="4.90" height="43.21" fill="#47821c"/>
<rect x="707.88" y="353.91" width="4.90" height="70.89" fill="#47821c"/>
<rect x="714.71" y="342.89" width="4.90" height="81.91" fill="#47821c"/>
<rect x="721.54" y="314.39" width="4.90" height="110.41" fill="#47821c"/>
<rect x="728.37" y="334.96" width="4.90" height="89.84" fill="#47821c"/>
<rect x="735.20" y="409.30" width="4.90" height="15.50" fill="#47821c"/>
<rect x="748.86" y="349.16" width="4.90" height="75.64" fill="#47821c"/>
<rect x="755.69" y="298.89" width="4.90" height="125.91" fill="#47821c"/>
<rect x="762.52" y="287.55" width="4.90" height="137.25" fill="#47821c"/>
<rect x="769.35" y="248.25" width="4.90" height="176.55" fill="#47821c"/>
<rect x="776.18" y="298.25" width="4.90" height="126.55" fill="#47821c"/>
<rect x="783.01" y="364.38" width="4.90" height="60.42" fill="#47821c"/>
<rect x="789.84" y="396.85" width="4.90" height="27.95" fill="#47821c"/>
<rect x="796.67" y="363.55" width="4.90" height="61.25" fill="#47821c"/>
<rect x="803.50" y="358.16" width="4.90" height="66.64" fill="#47821c"/>
<rect x="810.33" y="359.31" width="4.90" height="65.49" fill="#47821c"/>
<rect x="817.16" y="329.05" width="4.90" height="95.75" fill="#47821c"/>
<rect x="823.99" y="343.44" width="4.90" height="81.36" fill="#47821c"/>
<rect x="830.82" y="410.69" width="4.90" height="14.11" fill="#47821c"/>
<rect x="837.65" y="420.56" width="4.90" height="4.24" fill="#47821c"/>
<rect x="844.48" y="381.03" width="4.90" height="43.77" fill="#47821c"/>
<rect x="851.31" y="367.47" width="4.90" height="57.33" fill="#47821c"/>
<rect x="858.14" y="364.94" width="4.90" height="59.86" fill="#47821c"/>
<rect x="864.97" y="352.21" width="4.90" height="72.59" fill="#47821c"/>
<rect x="871.80" y="370.01" width="4.90" height="54.79" fill="#47821c"/>
<rect x="878.63" y="417.74" width="4.90" height="7.06" fill="#47821c"/>
<rect x="892.29" y="383.29" width="4.90" height="41.51" fill="#47821c"/>
<rect x="899.12" y="363.83" width="4.90" height="60.97" fill="#47821c"/>
<rect x="905.95" y="360.42" width="4.90" height="64.38" fill="#47821c"/>
<rect x="912.78" y="317.80" width="4.90" height="107.00" fill="#47821c"/>
<rect x="919.61" y="342.61" width="4.90" height="82.19" fill="#47821c"/>
<rect x="926.44" y="413.50" width="4.90" height="11.30" fill="#47821c"/>
<rect x="933.27" y="422.96" width="4.90" height="1.84" fill="#47821c"/>
<rect x="940.10" y="378.77" width="4.90" height="46.03" fill="#47821c"/>
<rect x="946.93" y="377.39" width="4.90" height="47.41" fill="#47821c"/>
<rect x="953.76" y="377.67" width="4.90" height="47.13" fill="#47821c"/>
<rect x="960.59" y="356.45" width="4.90" height="68.35" fill="#47821c"/>
<rect x="967.42" y="376.51" width="4.90" height="48.29" fill="#47821c"/>
<rect x="974.25" y="422.26" width="4.90" height="2.54" fill="#47821c"/>
<rect x="987.91" y="398.83" width="4.90" height="25.97" fill="#47821c"/>
<rect x="994.74" y="394.59" width="4.90" height="30.21" fill="#47821c"/>
<rect x="1001.57" y="388.37" width="4.90" height="36.43" fill="#47821c"/>
<rect x="1008.40" y="366.04" width="4.90" height="58.76" fill="#47821c"/>
<rect x="1015.23" y="379.60" width="4.90" height="45.20" fill="#47821c"/>
<rect x="1035.72" y="401.65" width="4.90" height="23.15" fill="#47821c"/>
<rect x="1042.55" y="393.44" width="4.90" height="31.36" fill="#47821c"/>
<rect x="1049.38" y="390.90" width="4.90" height="33.90" fill="#47821c"/>
<rect x="1056.21" y="361.80" width="4.90" height="63.00" fill="#47821c"/>
<rect x="1063.04" y="389.20" width="4.90" height="35.60" fill="#47821c"/>
<rect x="1069.87" y="421.66" width="4.90" height="3.14" fill="#47821c"/>
<rect x="1090.36" y="380.16" width="4.90" height="44.64" fill="#47821c"/>
<rect x="1097.19" y="341.51" width="4.90" height="83.29" fill="#47821c"/>
<rect x="1104.02" y="279.06" width="4.90" height="145.74" fill="#47821c"/>
<rect x="1110.85" y="296.59" width="4.90" height="128.21" fill="#47821c"/>
<rect x="1117.68" y="381.03" width="4.90" height="43.77" fill="#47821c"/>
<rect x="1124.51" y="407.00" width="4.90" height="17.80" fill="#47821c"/>
<rect x="1131.34" y="320.57" width="4.90" height="104.23" fill="#47821c"/>
<rect x="1138.17" y="296.86" width="4.90" height="127.94" fill="#47821c"/>
<rect x="1145.00" y="258.77" width="4.90" height="166.03" fill="#47821c"/>
<rect x="1151.83" y="228.51" width="4.90" height="196.29" fill="#47821c"/>
<rect x="1158.66" y="236.84" width="4.90" height="187.96" fill="#47821c"/>
<rect x="666.5" y="423.80" width="497" height="1.6" fill="#5c8f35"/>
</g>
</svg>
<div class="t" style="right:541.7px;left:auto;top:425.60px;font-size:10.4px;color:#1e1e1e;text-align:right;transform:scaleX(1.05);transform-origin:100% 0;-webkit-text-stroke:0.2px #1e1e1e">0</div>
<div class="t" style="right:541.7px;left:auto;top:379.48px;font-size:10.4px;color:#1e1e1e;text-align:right;transform:scaleX(1.05);transform-origin:100% 0;-webkit-text-stroke:0.2px #1e1e1e">5000</div>
<div class="t" style="right:541.7px;left:auto;top:333.36px;font-size:10.4px;color:#1e1e1e;text-align:right;transform:scaleX(1.05);transform-origin:100% 0;-webkit-text-stroke:0.2px #1e1e1e">10000</div>
<div class="t" style="right:541.7px;left:auto;top:287.24px;font-size:10.4px;color:#1e1e1e;text-align:right;transform:scaleX(1.05);transform-origin:100% 0;-webkit-text-stroke:0.2px #1e1e1e">15000</div>
<div class="t" style="right:541.7px;left:auto;top:241.12px;font-size:10.4px;color:#1e1e1e;text-align:right;transform:scaleX(1.05);transform-origin:100% 0;-webkit-text-stroke:0.2px #1e1e1e">20000</div>
<div class="t" style="right:541.7px;left:auto;top:195.00px;font-size:10.4px;color:#1e1e1e;text-align:right;transform:scaleX(1.05);transform-origin:100% 0;-webkit-text-stroke:0.2px #1e1e1e">25000</div>
<div class="t" style="left:130.00px;top:30.90px;font-size:8.50px;font-weight:700;color:#ffffff;transform:scaleX(0.9601);">REPUBLIKA SLOVENIJA</div>
<div class="t" style="left:130.00px;top:41.60px;font-size:9.10px;font-weight:400;color:#ffffff;transform:scaleX(1.0266);">VLADA REPUBLIKE SLOVENIJE</div>
<div class="t" style="left:307.81px;top:18.23px;font-size:36.00px;font-weight:700;color:#ffffff;transform:scaleX(1.0852);-webkit-text-stroke:1.20px #ffffff;">COVID-19</div>
<div class="t" style="left:500.22px;top:22.16px;font-size:32.50px;font-weight:400;color:#ffffff;transform:scaleX(1.0527);-webkit-text-stroke:0.35px #030f46;">podatki in trendi, cepljenje</div>
<div class="t" style="left:977.89px;top:8.60px;font-size:14.00px;font-weight:400;color:#ffffff;transform:scaleX(1.0630);-webkit-text-stroke:0.30px #ffffff;">Podatki veljajo za dan:</div>
<div class="t" style="left:992.47px;top:36.43px;font-size:22.00px;font-weight:700;color:#0c1749;transform:scaleX(1.0752);-webkit-text-stroke:1.10px #0c1749;">12. 11. 2021</div>
<div class="t" style="left:26.18px;top:120.25px;font-size:18.40px;font-weight:700;color:#ae9426;transform:scaleX(1.2537);-webkit-text-stroke:0.35px #ae9426;">Število cepljenih</div>
<div class="t" style="left:26.45px;top:144.79px;font-size:19.80px;font-weight:700;color:#ae9426;transform:scaleX(1.2357);-webkit-text-stroke:0.90px #ae9426;">z enim odmerkom</div>
<div class="t" style="left:26.18px;top:295.25px;font-size:18.40px;font-weight:700;color:#1b90b5;transform:scaleX(1.2537);-webkit-text-stroke:0.35px #1b90b5;">Število cepljenih</div>
<div class="t" style="left:26.45px;top:319.79px;font-size:19.80px;font-weight:700;color:#1b90b5;transform:scaleX(1.2292);-webkit-text-stroke:0.90px #1b90b5;">z vsemi odmerki</div>
<div class="t" style="left:335.35px;top:94.16px;font-size:17.00px;font-weight:700;color:#ae9426;transform:scaleX(1.2668);font-style:italic;-webkit-text-stroke:0.30px #ae9426;">celotna populacija</div>
<div class="t" style="left:333.29px;top:125.60px;font-size:32.60px;font-weight:400;color:#ffffff;transform:scaleX(1.0027);-webkit-text-stroke:0.40px #ae9426;">1.206.696</div>
<div class="t" style="left:494.30px;top:129.84px;font-size:25.00px;font-weight:700;color:#ffffff;transform:scaleX(1.1717);-webkit-text-stroke:1.00px #ffffff;">57 %</div>
<div class="t" style="left:272.18px;top:172.45px;font-size:14.50px;font-weight:400;color:#ae9426;transform:scaleX(1.2073);font-style:italic;-webkit-text-stroke:0.35px #ae9426;">starejši od 18 let</div>
<div class="t" style="left:430.68px;top:172.45px;font-size:14.50px;font-weight:400;color:#ae9426;transform:scaleX(1.2449);font-style:italic;-webkit-text-stroke:0.35px #ae9426;">starejši od 50 let</div>
<div class="t" style="left:327.10px;top:199.52px;font-size:19.00px;font-weight:700;color:#ffffff;transform:scaleX(1.1471);-webkit-text-stroke:0.80px #ffffff;">68 %</div>
<div class="t" style="left:488.70px;top:199.52px;font-size:19.00px;font-weight:700;color:#ffffff;transform:scaleX(1.1356);-webkit-text-stroke:0.80px #ffffff;">78 %</div>
<div class="t" style="left:335.35px;top:269.16px;font-size:17.00px;font-weight:700;color:#1b90b5;transform:scaleX(1.2668);font-style:italic;-webkit-text-stroke:0.30px #1b90b5;">celotna populacija</div>
<div class="t" style="left:333.01px;top:300.60px;font-size:32.60px;font-weight:400;color:#ffffff;transform:scaleX(0.8934);-webkit-text-stroke:0.40px #1b90b5;">1.130.910</div>
<div class="t" style="left:494.30px;top:304.84px;font-size:25.00px;font-weight:700;color:#ffffff;transform:scaleX(1.1717);-webkit-text-stroke:1.00px #ffffff;">54 %</div>
<div class="t" style="left:272.18px;top:347.45px;font-size:14.50px;font-weight:400;color:#1b90b5;transform:scaleX(1.2073);font-style:italic;-webkit-text-stroke:0.35px #1b90b5;">starejši od 18 let</div>
<div class="t" style="left:430.68px;top:347.45px;font-size:14.50px;font-weight:400;color:#1b90b5;transform:scaleX(1.2449);font-style:italic;-webkit-text-stroke:0.35px #1b90b5;">starejši od 50 let</div>
<div class="t" style="left:327.10px;top:374.52px;font-size:19.00px;font-weight:700;color:#ffffff;transform:scaleX(1.1471);-webkit-text-stroke:0.80px #ffffff;">63 %</div>
<div class="t" style="left:488.70px;top:374.52px;font-size:19.00px;font-weight:700;color:#ffffff;transform:scaleX(1.1356);-webkit-text-stroke:0.80px #ffffff;">74 %</div>
<div class="t" style="left:632.67px;top:117.88px;font-size:18.60px;font-weight:700;color:#438112;transform:scaleX(1.2455);-webkit-text-stroke:0.35px #438112;">Število cepljenj</div>
<div class="t" style="left:632.95px;top:142.79px;font-size:19.80px;font-weight:700;color:#438112;transform:scaleX(1.2299);-webkit-text-stroke:0.90px #438112;">v dnevu</div>
<div class="t" style="left:967.54px;top:124.47px;font-size:31.40px;font-weight:700;color:#ffffff;transform:scaleX(1.1063);-webkit-text-stroke:1.10px #ffffff;">20.377</div>
<div class="t" style="left:54.97px;top:487.13px;font-size:18.60px;font-weight:700;color:#ffffff;transform:scaleX(1.2546);-webkit-text-stroke:0.45px #ffffff;">Dnevno število pozitivnih</div>
<div class="t" style="left:395.97px;top:487.13px;font-size:18.60px;font-weight:700;color:#ffffff;transform:scaleX(1.2590);-webkit-text-stroke:0.45px #ffffff;">Dnevno število testiranj</div>
<div class="t" style="left:717.01px;top:489.45px;font-size:16.60px;font-weight:700;color:#ffffff;transform:scaleX(1.1937);-webkit-text-stroke:0.40px #ffffff;">Dnevno število smrti</div>
<div class="t" style="left:961.20px;top:471.35px;font-size:16.60px;font-weight:700;color:#ffffff;transform:scaleX(1.1889);-webkit-text-stroke:0.40px #ffffff;">7-dnevno povprečje</div>
<div class="t" style="left:965.00px;top:493.85px;font-size:16.60px;font-weight:700;color:#ffffff;transform:scaleX(1.2031);-webkit-text-stroke:0.40px #ffffff;">potrjenih primerov</div>
<div class="t" style="left:129.95px;top:527.45px;font-size:43.00px;font-weight:700;color:#0c1749;transform:scaleX(1.1916);-webkit-text-stroke:1.50px #0c1749;">3666</div>
<div class="t" style="left:451.43px;top:528.90px;font-size:42.00px;font-weight:700;color:#0c1749;transform:scaleX(1.2175);-webkit-text-stroke:1.50px #0c1749;">9205</div>
<div class="t" style="left:777.92px;top:528.80px;font-size:42.00px;font-weight:700;color:#0c1749;transform:scaleX(1.2264);-webkit-text-stroke:1.50px #0c1749;">20</div>
<div class="t" style="left:1030.85px;top:528.24px;font-size:40.30px;font-weight:700;color:#0c1749;transform:scaleX(0.9380);-webkit-text-stroke:1.50px #0c1749;">3141</div>
<div class="t" style="left:274.80px;top:540.16px;font-size:19.30px;font-weight:400;color:#333333;transform:scaleX(0.9769);-webkit-text-stroke:0.20px #ffffff;">39,8 %</div>
<div class="t" style="left:597.83px;top:529.75px;font-size:17.60px;font-weight:700;color:#0c1749;transform:scaleX(1.1223);-webkit-text-stroke:0.50px #0c1749;">HAGT</div>
<div class="t" style="left:600.50px;top:552.26px;font-size:18.60px;font-weight:400;color:#333333;transform:scaleX(1.0007);-webkit-text-stroke:0.20px #ffffff;">70129</div>
<div class="t" style="left:43.23px;top:633.43px;font-size:18.60px;font-weight:700;color:#ffffff;transform:scaleX(1.0864);-webkit-text-stroke:0.45px #ffffff;">Skupno število hospitaliziranih</div>
<div class="t" style="left:625.17px;top:635.77px;font-size:15.30px;font-weight:700;color:#ffffff;transform:scaleX(1.0511);-webkit-text-stroke:0.35px #ffffff;">Skupno število oseb na intenzivni negi</div>
<div class="t" style="left:123.11px;top:670.76px;font-size:42.40px;font-weight:700;color:#0c1749;transform:scaleX(1.0369);-webkit-text-stroke:1.50px #0c1749;">981</div>
<div class="t" style="left:701.82px;top:672.90px;font-size:42.00px;font-weight:700;color:#0c1749;transform:scaleX(1.1336);-webkit-text-stroke:1.50px #0c1749;">225</div>
<div class="t" style="left:323.78px;top:685.42px;font-size:16.40px;font-weight:400;color:#1c2450;transform:scaleX(1.2151);">Najmlajši bolnik:</div>
<div class="t" style="left:472.65px;top:685.27px;font-size:16.40px;font-weight:700;color:#0c1749;transform:scaleX(1.1589);-webkit-text-stroke:0.30px #0c1749;">20 let</div>
<div class="t" style="left:915.78px;top:686.72px;font-size:16.40px;font-weight:400;color:#1c2450;transform:scaleX(1.2194);">Najmlajši bolnik:</div>
<div class="t" style="left:1064.65px;top:686.57px;font-size:16.40px;font-weight:700;color:#0c1749;transform:scaleX(1.1707);-webkit-text-stroke:0.30px #0c1749;">28 let</div>
</div></body></html>
